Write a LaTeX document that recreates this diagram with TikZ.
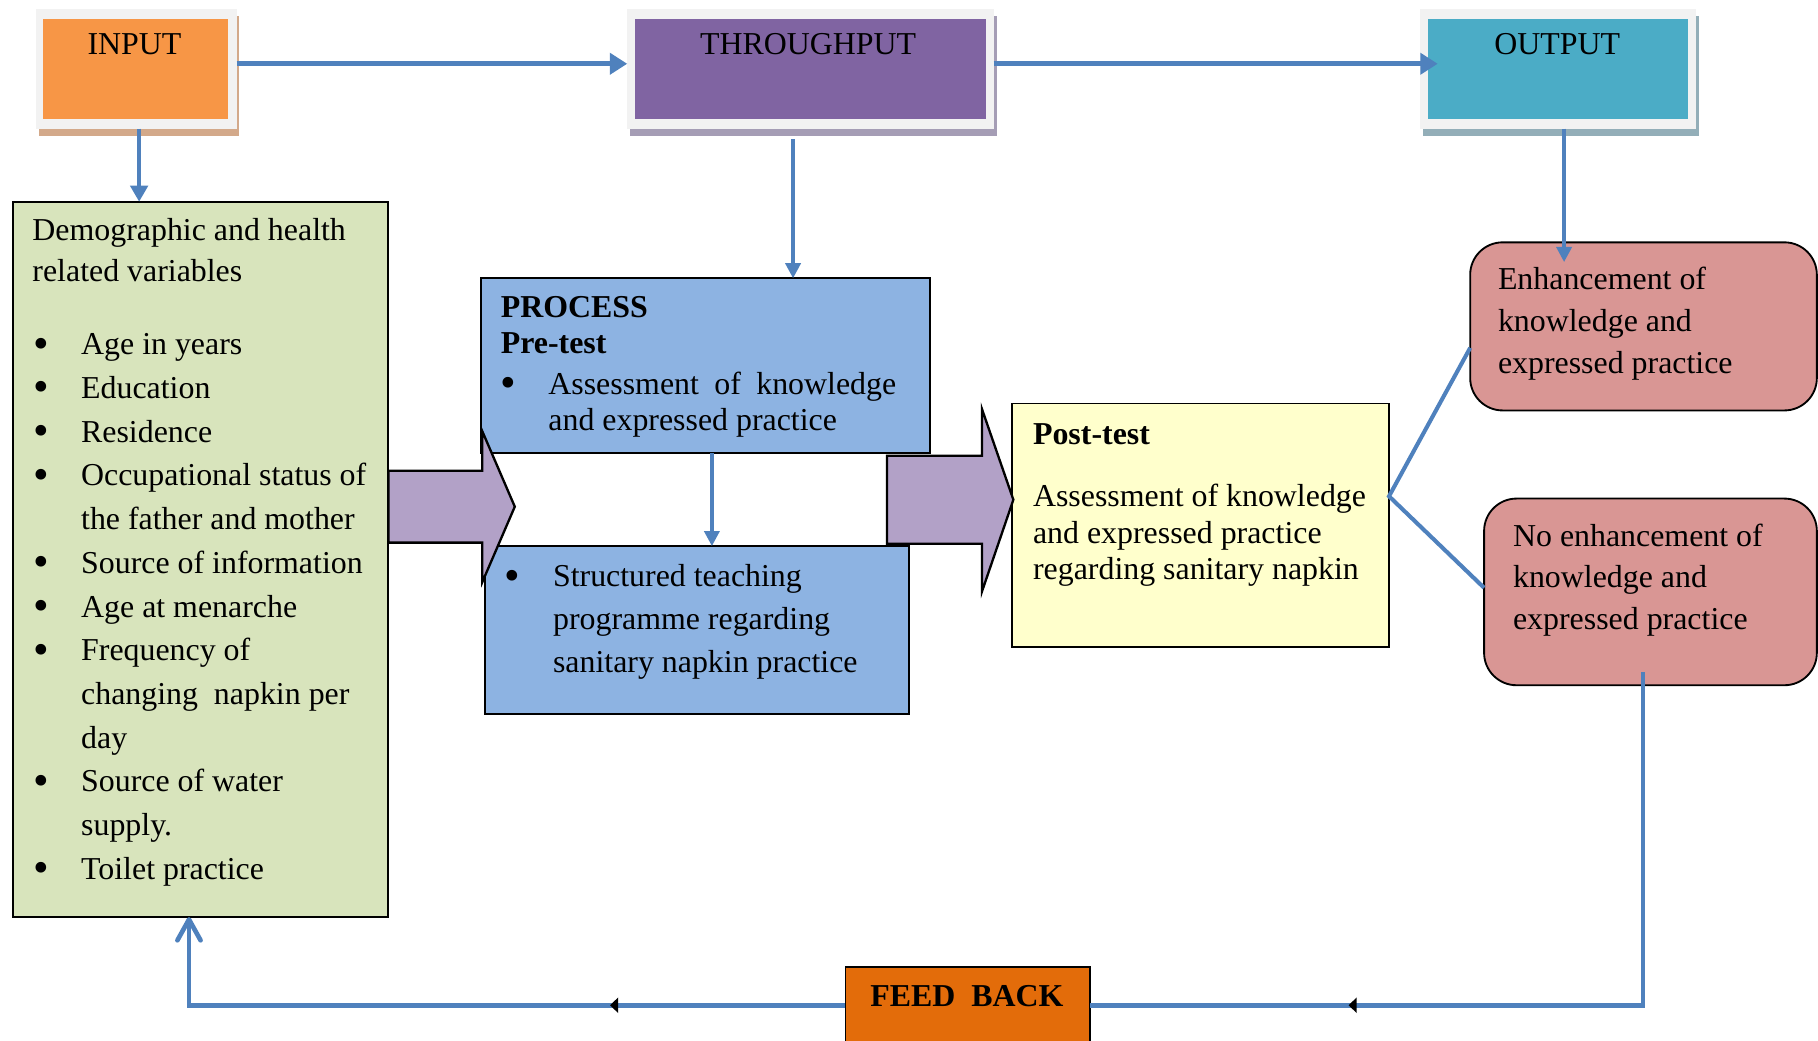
\documentclass[tikz,border=0pt]{standalone}
\usepackage{fontspec}
\setmainfont{Liberation Serif}
\usetikzlibrary{arrows.meta,decorations.markings}
\definecolor{cOrange}{HTML}{F79646}
\definecolor{cPurple}{HTML}{8064A2}
\definecolor{cCyan}{HTML}{4BACC6}
\definecolor{cFrame}{HTML}{F2F2F2}
\definecolor{cShIn}{HTML}{D3A98A}
\definecolor{cShTh}{HTML}{A59DB5}
\definecolor{cShOut}{HTML}{93AEB8}
\definecolor{cGreen}{HTML}{D8E4BC}
\definecolor{cBlue}{HTML}{8DB3E2}
\definecolor{cYellow}{HTML}{FFFFCC}
\definecolor{cRed}{HTML}{D99694}
\definecolor{cLine}{HTML}{4F81BD}
\definecolor{cBlock}{HTML}{B2A1C7}
\definecolor{cFB}{HTML}{E36C0A}
\newcommand\myBody{\fontsize{27.5}{37.5}\selectfont}
\newcommand\myLines[2]{\fontsize{27.5}{#1}\selectfont\begin{tabular}[t]{@{}l@{}}#2\end{tabular}}
\newcommand\myBul[1]{\makebox[#1][l]{\raisebox{-3pt}{\scalebox{1.4}{\textbullet}}}}
\begin{document}
\begin{tikzpicture}[x=1pt,y=-1pt,
  frame/.style={fill=cFrame, inner sep=0pt, outer sep=0pt},
  inner/.style={inner sep=0pt, outer sep=0pt},
  box/.style={draw=black, line width=1.6pt, inner sep=0pt, outer sep=0pt},
  rbox/.style={box, fill=cRed, rounded corners=28pt},
  txt/.style={inner sep=0pt, outer sep=0pt, anchor=base west, font=\myBody},
  ctxt/.style={inner sep=0pt, outer sep=0pt, anchor=base, font=\myBody},
  toparrow/.style={draw=cLine, line width=4.5pt, -{Triangle[length=15pt,width=18pt]}},
  downarrow/.style={draw=cLine, line width=4pt, -{Triangle[length=14pt,width=15pt]}},
  thinarrow/.style={draw=cLine, line width=3pt, -{Triangle[length=13pt,width=13pt]}},
  bline/.style={draw=cLine, line width=3.5pt},
  fbline/.style={draw=cLine, line width=4pt},
  marked/.style={postaction={decorate}, decoration={markings, mark=at position #1 with {\arrow[black]{Triangle[length=7pt,width=13pt]}}}},
  blockarrow/.style={fill=cBlock, draw=black, line width=2pt, line join=miter}
]
\useasboundingbox (0,0) rectangle (1568,897);

% ---- top boxes with shadows
\fill[cShIn] (33.5,14) rectangle (206.5,117);
\node[frame, minimum width=173pt, minimum height=103pt] (inputF) at (117.5,59.5) {};
\node[inner, fill=cOrange, minimum width=160pt, minimum height=87pt] (inputB) at (117,59.5) {};
\node[ctxt] (inputT) at (116,47) {INPUT};

\fill[cShTh] (543.5,14) rectangle (859.5,117);
\node[frame, minimum width=316pt, minimum height=103pt] (thruF) at (699,59.5) {};
\node[inner, fill=cPurple, minimum width=302pt, minimum height=87pt] (thruB) at (699,59.5) {};
\node[ctxt] (thruT) at (697,47) {THROUGHPUT};

\fill[cShOut] (1227.5,14) rectangle (1465.5,117);
\node[frame, minimum width=238pt, minimum height=103pt] (outF) at (1344,59.5) {};
\node[inner, fill=cCyan, minimum width=224pt, minimum height=87pt] (outB) at (1344,59.5) {};
\node[ctxt] (outT) at (1343,47) {OUTPUT};

% ---- main boxes
\node[box, fill=cGreen, minimum width=324pt, minimum height=617pt] (green) at (173,482.5) {};
\node[box, fill=cBlue, minimum width=387pt, minimum height=151pt] (proc) at (608.5,315.5) {};
\node[box, fill=cBlue, minimum width=366pt, minimum height=145pt] (teach) at (601,543.5) {};
\node[box, fill=cYellow, line width=1.4pt, minimum width=325pt, minimum height=210pt] (post) at (1035.5,453) {};
\node[rbox, minimum width=299pt, minimum height=145pt] (red1) at (1417.5,281.5) {};
\node[rbox, minimum width=287pt, minimum height=161pt] (red2) at (1423.5,510.5) {};
\node[box, fill=cFB, line width=1.2pt, minimum width=211pt, minimum height=65pt] (fb) at (834.5,866.5) {};

% ---- texts
\node[txt] (gHead) at (28,207) {\myLines{36}{Demographic and health\\related variables}};
\node[txt] (gList) at (28,306) {\fontsize{27.5}{37.7}\selectfont\begin{tabular}[t]{@{}l@{}l@{}}
\hspace*{1pt}\myBul{41pt} & Age in years\\
\hspace*{1pt}\myBul{41pt} & Education\\
\hspace*{1pt}\myBul{41pt} & Residence\\
\hspace*{1pt}\myBul{41pt} & Occupational status of\\
 & the father and mother\\
\hspace*{1pt}\myBul{41pt} & Source of information\\
\hspace*{1pt}\myBul{41pt} & Age at menarche\\
\hspace*{1pt}\myBul{41pt} & Frequency of\\
 & changing\ \ napkin per\\
 & day\\
\hspace*{1pt}\myBul{41pt} & Source of water\\
 & supply.\\
\hspace*{1pt}\myBul{41pt} & Toilet practice
\end{tabular}};

\node[txt, font=\myBody\bfseries] (pHead) at (432,274) {\myLines{31}{PROCESS\\Pre-test}};
\node[txt] (pList) at (432,340) {\fontsize{27.5}{31}\selectfont\begin{tabular}[t]{@{}l@{}l@{}}
\myBul{41pt} & \makebox[300pt][s]{Assessment of knowledge}\\
 & and expressed practice
\end{tabular}};

\node[txt] (tList) at (435.5,506) {\fontsize{27.5}{37}\selectfont\begin{tabular}[t]{@{}l@{}l@{}}
\myBul{41.5pt} & Structured teaching\\
 & programme regarding\\
 & sanitary napkin practice
\end{tabular}};

\node[txt, font=\myBody\bfseries] (postHead) at (891,383) {Post-test};
\node[txt] (postBody) at (891,437) {\myLines{31.5}{Assessment of knowledge\\and expressed practice\\regarding sanitary napkin}};

\node[txt] (r1Text) at (1292,250) {\myLines{36}{Enhancement of\\knowledge and\\expressed practice}};
\node[txt] (r2Text) at (1305,471) {\myLines{36}{No enhancement of\\knowledge and\\expressed practice}};

\node[ctxt, font=\myBody\bfseries] (fbT) at (834,868) {FEED~~BACK};

% ---- block arrows
\draw[blockarrow] (335,406) -- (416,406) -- (416,372) -- (444,437) -- (416,502) -- (416,468) -- (335,468) -- cycle;
\draw[blockarrow] (765,393) -- (847,393) -- (847,353) -- (874,431) -- (847,510) -- (847,469) -- (765,469) -- cycle;

% ---- connectors
\coordinate (ay) at (0,55);
\coordinate (tx) at (684,120);
\coordinate (ox) at (1349,0);
\coordinate (px) at (614,0);
\coordinate (py) at (0,428);
\coordinate (r1y) at (0,300);
\coordinate (r2y) at (0,507);
\draw[toparrow] (inputF.east |- ay) -- (thruF.west |- ay);
\draw[toparrow, shorten >=-15pt] (thruF.east |- ay) -- (outF.west |- ay);
\draw[downarrow] ([xshift=2.5pt]inputF.south) -- ([xshift=2.5pt]inputF.south |- green.north);
\draw[thinarrow] (tx) -- (tx |- proc.north);
\draw[thinarrow, shorten >=-17pt] (outF.south -| ox) -- (ox |- red1.north);
\draw[thinarrow] (proc.south -| px) -- (px |- teach.north);
\draw[bline] (red1.west |- r1y) -- (post.east |- py) -- (red2.west |- r2y);

% ---- feedback loop
\coordinate (fbs) at (1417,580);
\coordinate (fbc1) at (1417,867);
\coordinate (fbc2) at (163,867);
\draw[fbline, marked=0.708] (fbs) -- (fbc1) -- (fb.east |- fbc1);
\draw[fbline, marked=0.316, -{Straight Barb[length=18pt,width=20pt,round]}] (fb.west |- fbc1) -- (fbc2) -- (fbc2 |- green.south);
\end{tikzpicture}
\end{document}
